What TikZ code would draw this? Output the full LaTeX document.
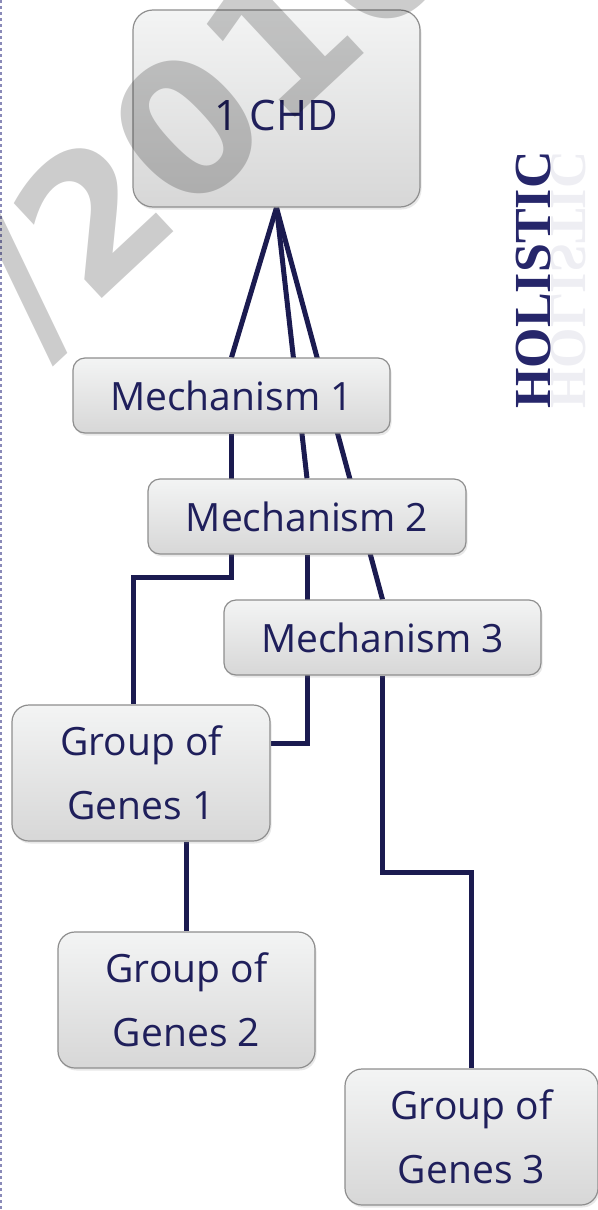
\documentclass[tikz,border=0pt]{standalone}
\usepackage{fontspec}
\setmainfont{Open Sans}
\newfontfamily\holfont{Liberation Serif}
\newfontfamily\wmfont{DejaVu Sans}
\usetikzlibrary{shadows,backgrounds}
\definecolor{navy}{HTML}{1F1F5B}
\definecolor{lnavy}{HTML}{1B1B50}
\definecolor{boxtop}{HTML}{F3F4F4}
\definecolor{boxbot}{HTML}{D7D7D7}
\definecolor{boxline}{HTML}{8E8E8E}
\definecolor{dashc}{HTML}{8A8AB8}
\definecolor{holc}{HTML}{26266A}
\tikzset{
  gbox/.style={draw=boxline, line width=1.2pt, top color=boxtop, bottom color=boxbot,
    rounded corners=12pt, text=navy, align=center, inner sep=0pt,
    drop shadow={shadow xshift=1.5pt, shadow yshift=-2.5pt, opacity=0.18}},
  mechbox/.style={gbox, minimum width=317pt, minimum height=75pt, font=\fontsize{39}{48}\selectfont},
  genebox/.style={gbox, rounded corners=17pt, minimum height=136pt, font=\fontsize{39}{64}\selectfont},
  conn/.style={draw=lnavy, line width=5pt},
}
\begin{document}
\begin{tikzpicture}[x=1pt,y=-1pt]
\useasboundingbox (0,0) rectangle (597,1210);
\draw[dashc, dashed, line width=1.2pt] (1,0) -- (1,1210);

% boxes
\node[gbox, rounded corners=20pt, minimum width=287pt, minimum height=197pt,
      text height=43pt, text depth=0pt, font=\fontsize{42}{50}\selectfont] (chd) at (276.5,108.5) {1 CHD};
\node[mechbox] (m1) at (231.5,395.5) {Mechanism 1};
\node[mechbox, minimum width=318pt] (m2) at (307,516.5) {Mechanism 2};
\node[mechbox] (m3) at (382.5,637.5) {Mechanism 3};
\node[genebox, minimum width=258pt] (g1) at (141,773) {Group of\\Genes 1};
\node[genebox, minimum width=257pt] (g2) at (186.5,1000) {Group of\\Genes 2};
\node[genebox, minimum width=253pt] (g3) at (471.5,1137) {Group of\\Genes 3};

% bend points
\coordinate (b1) at (231.5,577);
\coordinate (b1l) at (133,577);
\coordinate (b2) at (307,743);
\coordinate (b3) at (382.5,872);
\coordinate (b3r) at (471.5,872);

\begin{pgfonlayer}{background}
\draw[conn] (chd.south) -- (m1.north);
\draw[conn] (chd.south) -- (m2.north);
\draw[conn] (chd.south) -- (m3.north);
\draw[conn] (m1.south) -- (b1) -- (b1l) -- (b1l |- g1.north);
\draw[conn] (m2.south) -- (b2) -- (b2 -| g1.east);
\draw[conn] (m3.south) -- (b3) -- (b3r) -- (g3.north);
\draw[conn] (g2.north |- g1.south) -- (g2.north);
\end{pgfonlayer}

% side label
\node[rotate=90, anchor=base, text=holc, font=\holfont\bfseries\fontsize{52}{52}\selectfont]
  (hol) at (550,280) {HOLISTIC};
\begin{scope}[shift={(551,280)}, xscale=-1]
\node[rotate=90, anchor=base, transform shape, text=holc, opacity=0.08,
      font=\holfont\bfseries\fontsize{52}{52}\selectfont] (holr) at (0,0) {HOLISTIC};
\end{scope}

% watermark
\node[rotate=43, text=black, opacity=0.2, font=\wmfont\bfseries\fontsize{185}{185}\selectfont]
  (wm) at (214,112) {/2010};
\end{tikzpicture}
\end{document}
